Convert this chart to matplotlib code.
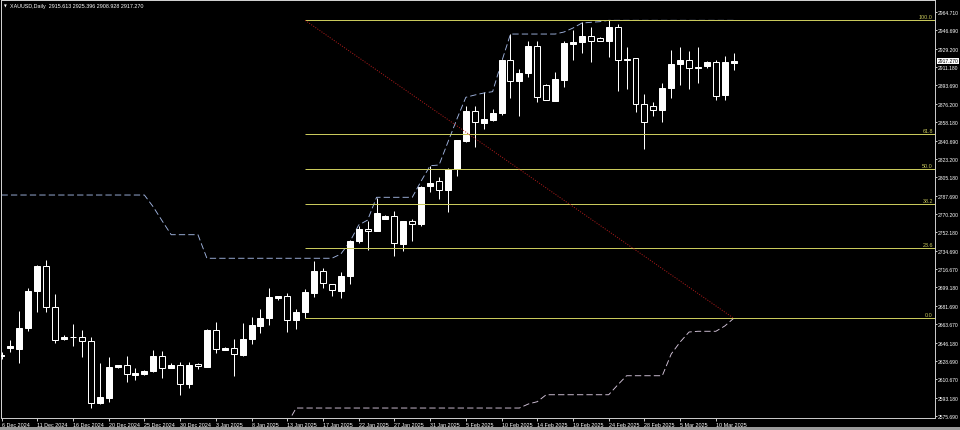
import matplotlib
matplotlib.use("Agg")
import matplotlib.pyplot as plt
from matplotlib.patches import Rectangle
import numpy as np

# ---------------- data ----------------
symbol_title = "XAUUSD,Daily"
last_ohlc = [2915.613, 2925.396, 2908.928, 2917.270]

opens = [2633.5, 2640.9, 2640.2, 2660.4, 2695.8, 2720.1, 2680.1, 2649.3, 2651.2, 2651.2,
         2647.3, 2587.9, 2593.0, 2622.9, 2624.2, 2615.2, 2615.6, 2618.4, 2632.9, 2621.9,
         2624.2, 2606.2, 2625.2, 2622.9, 2658.2, 2639.3, 2641.2, 2634.2, 2649.6, 2662.4,
         2669.5, 2689.0, 2690.7, 2667.9, 2675.3, 2694.1, 2714.7, 2702.2, 2695.8, 2710.2,
         2743.6, 2755.5, 2753.8, 2765.4, 2767.7, 2741.3, 2762.9, 2760.0, 2796.6, 2801.4,
         2793.3, 2813.3, 2840.5, 2868.8, 2857.8, 2860.4, 2867.2, 2918.2, 2898.3, 2905.7,
         2931.7, 2894.1, 2879.0, 2899.2, 2933.9, 2935.2, 2941.0, 2939.1, 2936.8, 2949.7,
         2918.9, 2919.8, 2875.8, 2873.6, 2870.4, 2891.0, 2914.6, 2918.2, 2910.8, 2912.7,
         2916.6, 2884.5, 2915.613]
highs = [2637.0, 2648.9, 2676.5, 2698.4, 2721.1, 2725.9, 2692.9, 2653.4, 2664.3, 2658.5,
         2651.2, 2626.4, 2631.9, 2624.8, 2632.9, 2621.6, 2619.7, 2639.3, 2637.7, 2626.4,
         2627.7, 2627.1, 2626.4, 2659.2, 2665.6, 2641.9, 2649.6, 2664.7, 2670.5, 2678.4,
         2698.4, 2690.9, 2693.6, 2678.4, 2697.7, 2725.0, 2717.9, 2702.6, 2713.8, 2745.2,
         2758.1, 2763.5, 2785.0, 2769.0, 2772.5, 2763.6, 2765.1, 2797.2, 2816.4, 2805.3,
         2814.2, 2841.4, 2874.2, 2873.6, 2887.1, 2871.0, 2919.2, 2943.2, 2909.5, 2936.8,
         2936.8, 2895.1, 2906.9, 2936.8, 2947.1, 2954.5, 2949.7, 2940.1, 2956.7, 2952.9,
         2930.4, 2920.2, 2885.5, 2878.1, 2895.8, 2928.1, 2930.4, 2927.2, 2931.0, 2917.5,
         2918.2, 2922.3, 2925.396]
lows = [2630.3, 2636.7, 2626.4, 2657.6, 2675.3, 2675.3, 2646.0, 2648.3, 2643.1, 2632.5,
        2582.8, 2586.5, 2588.6, 2621.9, 2607.9, 2610.1, 2615.2, 2618.0, 2611.7, 2621.3,
        2595.9, 2602.7, 2620.7, 2622.5, 2636.1, 2639.0, 2614.2, 2632.9, 2644.7, 2655.0,
        2663.0, 2687.4, 2656.6, 2659.2, 2669.5, 2689.7, 2698.7, 2691.3, 2689.0, 2702.5,
        2742.0, 2735.5, 2753.4, 2765.0, 2729.2, 2734.6, 2744.2, 2758.7, 2790.8, 2784.4,
        2772.1, 2806.8, 2839.5, 2834.1, 2851.8, 2859.8, 2865.2, 2881.3, 2864.0, 2901.5,
        2877.5, 2879.5, 2878.6, 2891.9, 2918.2, 2924.7, 2916.6, 2936.8, 2921.4, 2888.1,
        2890.3, 2867.8, 2832.5, 2864.0, 2858.8, 2881.9, 2894.1, 2890.3, 2896.1, 2910.2,
        2880.0, 2880.0, 2908.928]
closes = [2633.6, 2642.8, 2660.4, 2695.8, 2720.1, 2680.1, 2648.3, 2651.5, 2651.4, 2647.3,
          2587.9, 2594.0, 2622.9, 2624.2, 2615.6, 2616.8, 2618.7, 2632.9, 2621.3, 2624.2,
          2606.2, 2624.2, 2623.3, 2658.2, 2639.9, 2641.2, 2634.8, 2649.6, 2663.0, 2669.8,
          2689.7, 2690.6, 2667.9, 2675.8, 2695.1, 2715.3, 2703.2, 2696.5, 2710.2, 2744.2,
          2755.2, 2753.8, 2770.9, 2768.0, 2742.0, 2763.2, 2760.0, 2795.6, 2799.5, 2793.3,
          2813.6, 2840.8, 2868.8, 2858.2, 2861.4, 2867.5, 2918.5, 2898.3, 2906.0, 2931.7,
          2882.9, 2880.0, 2899.9, 2934.3, 2935.5, 2941.0, 2936.5, 2936.8, 2949.7, 2918.5,
          2918.5, 2875.8, 2858.2, 2870.4, 2891.2, 2914.6, 2918.2, 2910.2, 2911.0, 2916.6,
          2883.8, 2916.0, 2917.270]

channel_upper = [2788.2, 2788.2, 2788.2, 2788.2, 2788.2, 2788.2, 2788.2, 2788.2, 2788.2, 2788.2,
                 2788.2, 2788.2, 2788.2, 2788.2, 2788.2, 2788.2, 2788.2, 2776.7, 2763.2, 2750.0,
                 2750.0, 2750.0, 2750.0, 2727.3, 2727.3, 2727.3, 2727.3, 2727.3, 2727.3, 2727.3,
                 2727.3, 2727.3, 2727.3, 2727.3, 2727.3, 2727.3, 2727.3, 2727.3, 2731.4, 2743.0,
                 2759.3, 2764.1, 2786.0, 2786.0, 2786.0, 2786.0, 2786.0, 2801.7, 2816.4, 2817.1,
                 2839.3, 2861.4, 2882.3, 2884.5, 2886.4, 2887.7, 2916.3, 2943.2, 2943.2, 2943.2,
                 2943.2, 2943.2, 2943.2, 2945.2, 2949.0, 2953.8, 2954.5, 2955.1, 2956.4, 2956.4,
                 2956.4, 2956.4, 2956.4, 2956.4, 2956.4, 2956.4, 2956.4, 2956.4, 2956.4, 2956.4,
                 2956.4, 2956.4, 2956.4]
nan = float("nan")
channel_lower = [nan, nan, nan, nan, nan, nan, nan, nan, nan, nan,
                 nan, nan, nan, nan, nan, nan, nan, nan, nan, nan,
                 nan, nan, nan, nan, nan, nan, nan, nan, nan, nan,
                 nan, nan, 2568.0, 2583.1, 2583.1, 2583.1, 2583.1, 2583.1, 2583.1, 2583.1,
                 2583.1, 2583.1, 2583.1, 2583.1, 2583.1, 2583.1, 2583.1, 2583.1, 2583.1, 2583.1,
                 2583.1, 2583.1, 2583.1, 2583.1, 2583.1, 2583.1, 2583.1, 2583.1, 2583.1, 2587.0,
                 2589.2, 2595.9, 2595.9, 2595.9, 2595.9, 2595.9, 2595.9, 2595.9, 2595.9, 2605.3,
                 2614.2, 2614.2, 2614.2, 2614.2, 2614.2, 2635.1, 2646.7, 2656.3, 2657.0, 2657.0,
                 2657.0, 2662.1, 2669.5]

date_labels = ["6 Dec 2024", "11 Dec 2024", "16 Dec 2024", "20 Dec 2024", "25 Dec 2024",
               "30 Dec 2024", "3 Jan 2025", "8 Jan 2025", "13 Jan 2025", "17 Jan 2025",
               "22 Jan 2025", "27 Jan 2025", "31 Jan 2025", "5 Feb 2025", "10 Feb 2025",
               "14 Feb 2025", "19 Feb 2025", "24 Feb 2025", "28 Feb 2025", "5 Mar 2025",
               "10 Mar 2025"]
date_label_bars = [0, 4, 8, 12, 16, 20, 24, 28, 32, 36, 40, 44, 48, 52, 56, 60, 64, 68, 72, 76, 80]

price_ticks = [2964.710, 2946.690, 2929.200, 2911.180, 2893.690, 2876.200, 2858.180, 2840.690,
               2823.200, 2805.180, 2787.690, 2770.200, 2752.180, 2734.690, 2716.670, 2699.180,
               2681.690, 2663.670, 2646.180, 2628.690, 2610.670, 2593.180, 2575.690]

fib_high = 2956.4
fib_low = 2669.5
fib_start_bar = 34
fib_end_bar = 82
fib_levels = [100.0, 61.8, 50.0, 38.2, 23.6, 0.0]

# ---------------- figure ----------------
W, H = 960, 431
fig = plt.figure(figsize=(W / 100, H / 100), dpi=100, facecolor="black")
left_px, right_px, top_px, bot_px = 1, 935, 1, 419
ax = fig.add_axes([left_px / W, 1 - bot_px / H, (right_px - left_px) / W, (bot_px - top_px) / H])
ax.set_facecolor("black")

FONT = "Liberation Sans"
FS = 3.9
FSY = 3.65
px = 0.72  # one pixel in points

n = len(opens)
xs = np.arange(n)
bw = 0.67
for i in xs:
    o, h, l, c = opens[i], highs[i], lows[i], closes[i]
    ax.vlines(i, l, h, color="white", lw=px, zorder=2)
    bottom = min(o, c)
    height = max(abs(c - o), 0.6)
    bull = c >= o
    ax.add_patch(Rectangle((i - bw / 2, bottom), bw, height,
                           facecolor="white" if bull else "black",
                           edgecolor="white", lw=px, zorder=3))

ax.plot(xs, channel_upper, color="#a2b6e2", lw=px * 0.9, ls=(0, (7, 3.5)), zorder=2.5)
ax.plot(xs, channel_lower, color="#d6c6dc", lw=px * 0.9, ls=(0, (7, 3.5)), zorder=2.5)

# fibonacci
fib_col = "#c9c95c"
x_right = 104.54
for lv in fib_levels:
    p = fib_low + (fib_high - fib_low) * lv / 100.0
    ax.plot([fib_start_bar, x_right], [p, p], color=fib_col, lw=px, zorder=4,
            solid_capstyle="butt")
    ax.text(104.3, p + 1.0, f"{lv:.1f}", color=fib_col, fontsize=FS, family=FONT,
            ha="right", va="bottom", zorder=5)
ax.plot([fib_start_bar, fib_end_bar], [fib_high, fib_low], color="#b01c1c", lw=px,
        ls=(0, (1, 1.5)), zorder=4)

# axes limits/spines
ax.set_xlim(-0.056, 104.54)
ax.set_ylim(2573.5, 2975.98)
for s in ["left", "top"]:
    ax.spines[s].set_color("#d0d0d0")
    ax.spines[s].set_linewidth(px)
for s in ["right", "bottom"]:
    ax.spines[s].set_color("#c8c8c8")
    ax.spines[s].set_linewidth(px)

ax.yaxis.tick_right()
ax.set_yticks(price_ticks)
ax.set_yticklabels([f"{v:.3f}" for v in price_ticks], family=FONT, fontsize=FSY, color="white")
ax.tick_params(axis="y", direction="out", length=1.6, width=px, color="#c8c8c8", pad=0.4)

ax.set_xticks(date_label_bars)
ax.set_xticklabels(date_labels, family=FONT, fontsize=FS, color="white", ha="left")
ax.tick_params(axis="x", direction="out", length=2.0, width=px, color="#c8c8c8", pad=1.2)

# current price box
ax.text(1.0028, last_ohlc[3], f"{last_ohlc[3]:.3f}", transform=ax.get_yaxis_transform(),
        color="black", fontsize=FSY, family=FONT, ha="left", va="center",
        bbox=dict(boxstyle="square,pad=0.1", facecolor="white", edgecolor="none"), zorder=6,
        clip_on=False)

# title
fig.text(4 / W, 1 - 6.5 / H, "\u25BC", color="white", fontsize=2.6, family="DejaVu Sans",
         ha="left", va="center")
fig.text(10 / W, 1 - 6.5 / H,
         f"{symbol_title}  {last_ohlc[0]:.3f} {last_ohlc[1]:.3f} {last_ohlc[2]:.3f} {last_ohlc[3]:.3f}",
         color="white", fontsize=FS, family=FONT, ha="left", va="center")

# bottom window border
fig.patches.append(Rectangle((0, 0), 1, 3 / H, transform=fig.transFigure,
                             facecolor="#9a9a9a", edgecolor="none"))

fig.savefig("out.png", dpi=100, facecolor="black")
